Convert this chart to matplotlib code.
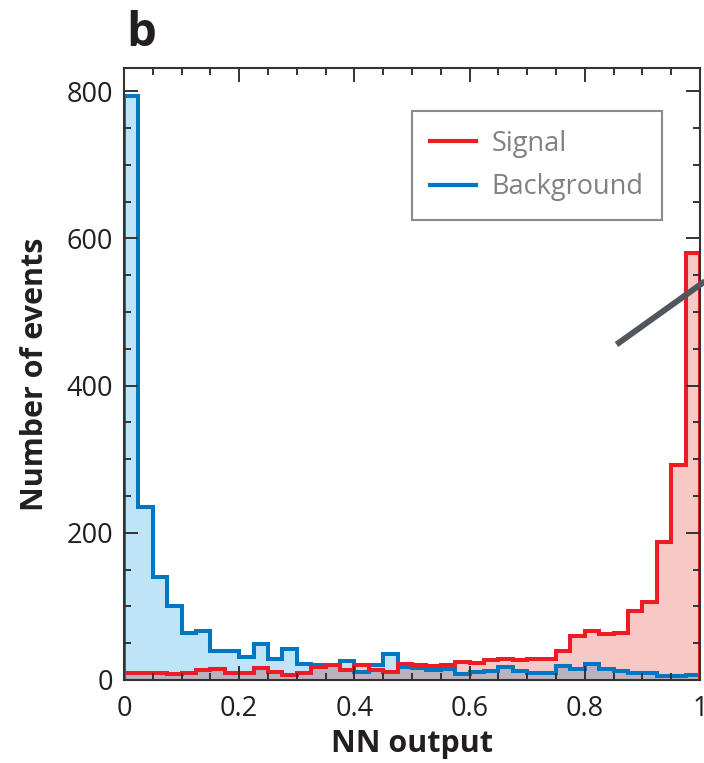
import numpy as np
import matplotlib
matplotlib.use("Agg")
import matplotlib.pyplot as plt
from matplotlib.lines import Line2D
from matplotlib.ticker import MultipleLocator

plt.rcParams["font.family"] = ["Open Sans", "DejaVu Sans"]

# 40 equal bins over the NN output range
bin_edges = np.linspace(0.0, 1.0, 41)

signal_counts = [9, 10, 10, 8, 9, 13, 15, 9, 9, 16,
                 11, 7, 10, 17, 20, 14, 21, 14, 11, 22,
                 21, 19, 21, 25, 23, 27, 28, 27, 28, 29,
                 39, 60, 66, 63, 64, 94, 106, 188, 292, 580]
background_counts = [794, 235, 140, 100, 64, 67, 40, 40, 31, 49,
                     28, 42, 22, 20, 20, 26, 11, 20, 35, 17,
                     16, 14, 15, 8, 11, 12, 18, 12, 10, 10,
                     19, 15, 22, 15, 12, 10, 9, 6, 5, 7]

x_ticks = [0, 0.2, 0.4, 0.6, 0.8, 1]
x_tick_labels = ["0", "0.2", "0.4", "0.6", "0.8", "1"]
y_ticks = [0, 200, 400, 600, 800]

SIG_LINE, SIG_FILL = "#ec1c24", "#f8c8c4"
BKG_LINE, BKG_FILL = "#0077c0", "#bfe4f7"
OVERLAP_FILL = "#bab3bf"
INK = "#231f20"

sig = np.array(signal_counts, dtype=float)
bkg = np.array(background_counts, dtype=float)

fig = plt.figure(figsize=(7.04, 7.63), dpi=100)
ax = fig.add_axes([124 / 704, 1 - 680 / 763, 576 / 704, 612.3 / 763])

# filled areas: each class, then the shared part in grey
ax.stairs(bkg, bin_edges, fill=True, color=BKG_FILL, lw=0)
ax.stairs(sig, bin_edges, fill=True, color=SIG_FILL, lw=0)
ax.stairs(np.minimum(sig, bkg), bin_edges, fill=True, color=OVERLAP_FILL, lw=0)

# outlines
ax.stairs(bkg, bin_edges, color=BKG_LINE, lw=2.9, baseline=0)
ax.stairs(sig, bin_edges, color=SIG_LINE, lw=2.9, baseline=0)

ax.set_xlim(0, 1)
ax.set_ylim(0, 832)
ax.set_xticks(x_ticks)
ax.set_xticklabels(x_tick_labels)
ax.set_yticks(y_ticks)
ax.xaxis.set_minor_locator(MultipleLocator(0.05))
ax.yaxis.set_minor_locator(MultipleLocator(50))
ax.tick_params(which="both", direction="in", top=True, right=True,
               color="#333333", width=1.4, labelsize=19.5, labelcolor=INK)
ax.tick_params(which="major", length=10)
ax.tick_params(which="minor", length=5)
ax.tick_params(axis="x", pad=11)
ax.tick_params(axis="y", pad=8)
for sp in ax.spines.values():
    sp.set_color("#333333")
    sp.set_linewidth(1.5)

ax.set_xlabel("NN output", fontsize=22, fontweight="bold", color=INK, labelpad=4)
ax.set_ylabel("Number of events", fontsize=22, fontweight="bold", color=INK, labelpad=12)

handles = [Line2D([], [], color=SIG_LINE, lw=3),
           Line2D([], [], color=BKG_LINE, lw=3)]
leg = ax.legend(handles, ["Signal", "Background"], loc="upper left",
                bbox_to_anchor=(0.5, 0.929), fontsize=19.5, labelcolor="#808080",
                frameon=True, fancybox=False, framealpha=1, edgecolor="#8a8a8a",
                handlelength=1.7, handletextpad=0.55, borderpad=0.68,
                labelspacing=0.58, borderaxespad=0)
leg.get_frame().set_linewidth(1.5)

fig.text(126 / 704, 1 - 46 / 763, "b", fontsize=34, fontweight="bold",
         color=INK, ha="left", va="baseline")

# pointer line running off the right edge
fig.add_artist(Line2D([616.5 / 704, 720 / 704], [1 - 344.5 / 763, 1 - 270.5 / 763],
                      transform=fig.transFigure, color="#50565c", lw=4.3,
                      solid_capstyle="butt"))

fig.savefig("out.png", dpi=100)
